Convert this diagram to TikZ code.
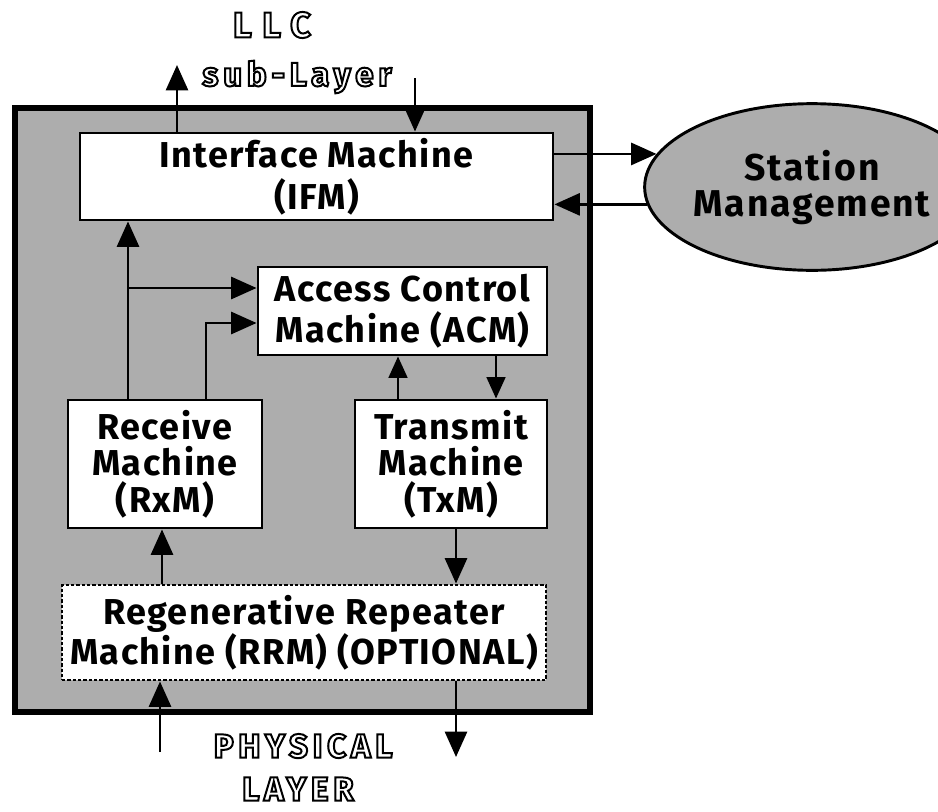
\documentclass[tikz,border=0pt]{standalone}
\usepackage{fontspec}
\setmainfont{Fira Sans}
\usetikzlibrary{arrows.meta,shapes.geometric}
\definecolor{halftone}{gray}{0.68}
\newcommand{\outlinetext}[1]{\special{pdf:literal direct 1 Tr 1.5 w}#1\special{pdf:literal direct 0 Tr}}
\begin{document}
\begin{tikzpicture}[x=0.75pt,y=-0.75pt,
  lines/.style={font=\fontsize{27}{#1}\selectfont\bfseries\addfontfeature{LetterSpace=4}},
  box/.style={draw,line width=2.2pt,fill=white,align=center,inner sep=0pt},
  dbox/.style={box,dash pattern=on 2.5pt off 1.5pt},
  frame/.style={draw,line width=3.8pt,fill=halftone},
  arr/.style={line width=2pt,-{Triangle[length=19pt,width=16.5pt]}},
  sarr/.style={line width=1.8pt,-{Triangle[length=16pt,width=14pt]}},
  outl/.style={font=\fontsize{25}{28}\selectfont\bfseries\addfontfeature{LetterSpace=14},inner sep=0pt}]
\useasboundingbox (0,0) rectangle (938,811);
% outer frame
\draw[frame] (15,108) rectangle (590,712);
% boxes
\node[box,lines=31.5pt,minimum width=354.75pt,minimum height=65.25pt] (ifm) at (316.5,176.5) {Interface Machine\\(IFM)};
\node[box,lines=30.5pt,minimum width=216.75pt,minimum height=66pt] (acm) at (402.5,311) {Access Control\\Machine (ACM)};
\node[box,lines=27.5pt,minimum width=145.5pt,minimum height=96pt] (rxm) at (165,464) {Receive\\Machine\\(RxM)};
\node[box,lines=27.5pt,minimum width=144pt,minimum height=96pt] (txm) at (451,464) {Transmit\\Machine\\(TxM)};
\node[dbox,lines=27.5pt,minimum width=363pt,minimum height=71.25pt] (rrm) at (304,632.5) {Regenerative Repeater\\Machine (RRM) (OPTIONAL)};
\node[ellipse,draw,line width=2.2pt,fill=halftone,minimum width=187pt,minimum height=125pt,inner sep=0pt,
      font=\fontsize{28}{27}\selectfont\bfseries\addfontfeature{LetterSpace=5},align=center] (sm) at (812,187) {Station\\Management};
% outline labels
\node[outl,font=\fontsize{27}{28}\selectfont\bfseries\addfontfeature{LetterSpace=30}] (llc) at (272,25) {\outlinetext{LLC}};
\node[outl] (sub) at (297,77) {\outlinetext{sub-Layer}};
\node[outl] (phy) at (303,746) {\outlinetext{PHYSICAL}};
\node[outl] (lay) at (298,789) {\outlinetext{LAYER}};
% free ends and bends
\coordinate (llcup) at (177,65);
\coordinate (llcdn) at (415,78);
\coordinate (c1) at (128,288);
\coordinate (c2) at (206,323);
\coordinate (c3) at (398,0);
\coordinate (c4) at (496,0);
\coordinate (c5) at (162,0);
\coordinate (c6) at (456,0);
\coordinate (phyin) at (160,752);
\coordinate (phyout) at (456,757);
% connectors
\draw[arr] (llcup |- ifm.north) -- (llcup);
\draw[arr] (llcdn) -- (llcdn |- ifm.north);
\draw[arr] (ifm.east |- sm.168) -- (sm.168);
\draw[arr] (sm.186) -- (ifm.east |- sm.186);
\draw[arr] (c1 |- rxm.north) -- (c1 |- ifm.south);
\draw[arr] (c1) -- (c1 -| acm.west);
\draw[arr] (c2 |- rxm.north) -- (c2) -- (c2 -| acm.west);
\draw[sarr] (c3 |- txm.north) -- (c3 |- acm.south);
\draw[sarr] (c4 |- acm.south) -- (c4 |- txm.north);
\draw[arr] (c5 |- rrm.north) -- (c5 |- rxm.south);
\draw[arr] (c6 |- txm.south) -- (c6 |- rrm.north);
\draw[arr] (phyin) -- (phyin |- rrm.south);
\draw[arr] (phyout |- rrm.south) -- (phyout);
\end{tikzpicture}
\end{document}
